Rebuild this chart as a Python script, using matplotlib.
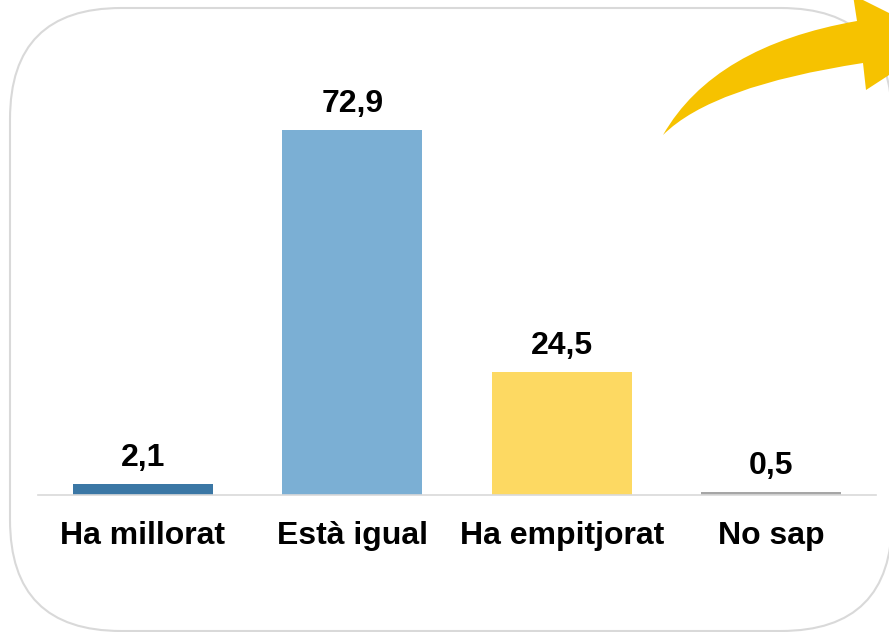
import matplotlib
matplotlib.use("Agg")
import matplotlib.pyplot as plt
from matplotlib.patches import FancyBboxPatch, PathPatch
from matplotlib.path import Path

categories = ["Ha millorat", "Està igual", "Ha empitjorat", "No sap"]
values = [2.1, 72.9, 24.5, 0.5]
value_labels = ["2,1", "72,9", "24,5", "0,5"]
colors = ["#3B77A5", "#7BAFD4", "#FDD962", "#A6A6A6"]

W, H = 889, 632
fig = plt.figure(figsize=(W / 100, H / 100), dpi=100)
fig.patch.set_facecolor("white")

def fx(x):
    return x / W

def fy(y):
    return 1 - y / H

# rounded frame
frame = FancyBboxPatch((fx(10), fy(631)), fx(892) - fx(10), fy(8) - fy(631),
                       boxstyle="round,pad=0,rounding_size=0.125",
                       transform=fig.transFigure, facecolor="white",
                       edgecolor="#D9D9D9", linewidth=1.5, zorder=0,
                       mutation_aspect=W / H)
fig.add_artist(frame)

# axes
ax = fig.add_axes([fx(38), fy(495), fx(876) - fx(38), fy(100) - fy(495)])
ax.set_facecolor("none")
ax.bar(range(len(values)), values, width=0.67, color=colors, zorder=2)
ax.set_xlim(-0.5, 3.5)
ax.set_ylim(0, 395 / 5.007)
for s in ["top", "right", "left"]:
    ax.spines[s].set_visible(False)
ax.spines["bottom"].set_color("#D9D9D9")
ax.spines["bottom"].set_linewidth(1.2)
ax.set_yticks([])
ax.set_xticks(range(len(categories)))
ax.set_xticklabels(categories, fontsize=23, fontweight="bold",
                   family="Liberation Sans")
ax.tick_params(axis="x", length=0, pad=19)
for i, (v, lab) in enumerate(zip(values, value_labels)):
    ax.annotate(lab, (i, v), xytext=(0, 8), textcoords="offset points",
                ha="center", va="bottom", fontsize=23, fontweight="bold",
                family="Liberation Sans")

# curved arrow
verts = [
    (fx(663), fy(135)),
    (fx(714), fy(46)), (fx(857), fy(21)),   # upper body curve
    (fx(853), fy(-5)),                      # head top-left
    (fx(943), fy(40)),                      # tip
    (fx(866), fy(90)),                      # head bottom
    (fx(863), fy(63)),                      # lower notch
    (fx(712), fy(86)), (fx(663), fy(135)),  # lower body curve
    (fx(663), fy(135)),
]
codes = [Path.MOVETO, Path.CURVE3, Path.CURVE3, Path.LINETO, Path.LINETO,
         Path.LINETO, Path.LINETO, Path.CURVE3, Path.CURVE3, Path.CLOSEPOLY]
arrow = PathPatch(Path(verts, codes), transform=fig.transFigure,
                  facecolor="#F6C200", edgecolor="none", zorder=5)
fig.add_artist(arrow)

fig.savefig("out.png", dpi=100)
